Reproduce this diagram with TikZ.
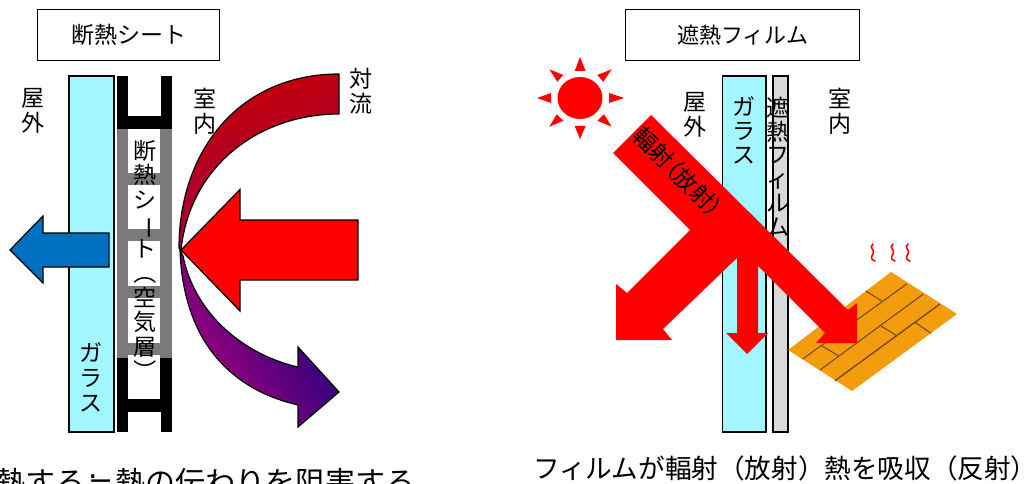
\documentclass[tikz,border=0pt]{standalone}
\usepackage{fontspec}
\setmainfont{Noto Sans CJK JP}
\newfontfamily\symfont{DejaVu Sans}
\newfontfamily\paltfont[RawFeature=+palt]{Noto Sans CJK JP}
\definecolor{glassc}{RGB}{161,246,255}
\definecolor{filmc}{RGB}{217,217,217}
\definecolor{bluec}{RGB}{0,112,192}
\definecolor{grayc}{RGB}{122,122,122}
\definecolor{floorc}{RGB}{243,156,14}
\definecolor{plankc}{RGB}{110,70,20}
\definecolor{arcdeep}{RGB}{150,0,75}
\definecolor{arctop}{RGB}{200,0,5}
\definecolor{lowa}{RGB}{170,0,125}
\definecolor{lowb}{RGB}{20,0,125}
\newcommand\vrot[1]{\smash{\rotatebox[origin=c]{-90}{#1}}}
\newcommand\vst[2]{\vbox{\baselineskip=#1pt\lineskiplimit=-100pt\lineskip=0pt\halign{\hfil##\hfil\cr#2\crcr}}}
\tikzset{
  panel/.style={draw=black,line width=1.4pt},
  titlebox/.style={draw=black,line width=1.4pt,minimum width=#1,minimum height=51pt,inner sep=0pt,font=\fontsize{23}{25}\selectfont},
  vlabel/.style={inner sep=0pt,font=\fontsize{23}{25}\selectfont},
  arrowred/.style={fill=red,draw=black,line width=1.2pt,line join=miter},
  plank/.style={draw=plankc,line width=1pt},
  wave/.style={draw=red,line width=1.6pt,line cap=round},
  ray/.style={fill=red,draw=none}
}
\begin{document}
\begin{tikzpicture}[x=1pt,y=-1pt]
\useasboundingbox (0,0) rectangle (1025,484);
% ---------- left: insulation sheet
\node[titlebox=182pt,anchor=north west] (t1) at (37,9) {断熱シート};
\draw[panel,fill=glassc] (69,76) rectangle (114,432);
\fill[black] (117,76) rectangle (172,432);
\fill[grayc] (117,129) rectangle (172,358);
\fill[white] (127.5,76) rectangle (161,116);
\fill[white] (127.5,129) rectangle (160,173);
\fill[white] (127.5,185) rectangle (160,229);
\fill[white] (127.5,241) rectangle (160,286);
\fill[white] (127.5,298) rectangle (160,343);
\fill[white] (127.5,355) rectangle (160,399);
\fill[white] (127.5,412) rectangle (161,432);
\node[vlabel,anchor=north] (sheet) at (145,140) {\vst{24.5}{断\cr 熱\cr シ\cr \vrot{ー}\cr ト\cr \vrot{（}\cr 空\cr 気\cr 層\cr \vrot{）}}};
\node[vlabel,anchor=north] (glass1) at (91,342) {\vst{25}{ガ\cr ラ\cr ス}};
\node[vlabel] (out1) at (33,111) {\vst{25}{屋\cr 外}};
\node[vlabel] (in1) at (205,111) {\vst{25}{室\cr 内}};
\node[vlabel] (conv) at (361,91) {\vst{25}{対\cr 流}};
% upper convection arc
\path[draw=black,line width=1.2pt,top color=arctop,bottom color=arcdeep,shading angle=20]
  (339,74) .. controls (240,74) and (179,150) .. (179,248)
  -- (181,250) .. controls (190,165) and (260,114) .. (339,114) -- cycle;
% lower convection arrow
\path[draw=black,line width=1.2pt,left color=lowa,right color=lowb,shading angle=120]
  (180,250) .. controls (183,335) and (225,388) .. (298,405)
  -- (298,427) -- (339,392) -- (298,347) -- (298,367)
  .. controls (245,355) and (195,315) .. (183,256) -- cycle;
% arrows
\draw[arrowred] (181,250) -- (240,189.5) -- (240,220) -- (358,220) -- (358,280) -- (240,280) -- (240,311) -- cycle;
\draw[fill=bluec,draw=black,line width=1.2pt] (10,250) -- (43,216) -- (43,233) -- (109,233) -- (109,267) -- (43,267) -- (43,283) -- cycle;
\node[inner sep=0pt,anchor=east,font=\fontsize{30}{32}\selectfont] (cap1) at (416,482) {熱する\makebox[1em]{\symfont ≒}熱の伝わりを阻害する};
% ---------- right: heat-shield film
\node[titlebox=234pt,anchor=north west,font=\fontsize{22}{25}\selectfont] (t2) at (625,9) {遮熱フィルム};
\fill[ray] (580,98) ellipse (22.5 and 21);
\fill[ray] (580,57) -- (574.7,71) -- (585.7,71) -- cycle;
\fill[ray] (580,139) -- (574.7,126) -- (585.7,126) -- cycle;
\fill[ray] (537,98) -- (551,93) -- (551,103) -- cycle;
\fill[ray] (624,98) -- (609,93) -- (609,103) -- cycle;
\fill[ray] (611.7,69.3) -- (597.3,75) -- (603.3,81.7) -- cycle;
\fill[ray] (549.3,69.3) -- (563.3,75) -- (557.3,81.7) -- cycle;
\fill[ray] (611.7,126.7) -- (597.3,120.7) -- (604,114.3) -- cycle;
\fill[ray] (549.3,126.7) -- (563.3,120.7) -- (556.7,114.3) -- cycle;
\draw[panel,fill=glassc] (722.5,76) rectangle (766,432);
\draw[panel,fill=filmc] (773,76) rectangle (788,432);
\node[vlabel,anchor=north] (glass2) at (744,96) {\vst{24}{ガ\cr ラ\cr ス}};
\node[vlabel,anchor=north] (film) at (777.5,97) {\vst{23.7}{遮\cr 熱\cr フ\cr ィ\cr ル\cr ム}};
\node[vlabel] (out2) at (695,115) {\vst{25}{屋\cr 外}};
\node[vlabel] (in2) at (840,111) {\vst{25}{室\cr 内}};
% floor
\fill[floorc] (891,272) -- (957,314) -- (852,391) -- (788,350) -- cycle;
\draw[plank] (802.7,359) -- (906.7,284);
\draw[plank] (820,370) -- (923.3,294);
\draw[plank,line width=1.3pt] (835,380.7) -- (940,304);
\draw[plank] (865.7,291) -- (881.7,301);
\draw[plank] (821.7,345.7) -- (838.3,355.7);
\draw[plank] (881,326) -- (896.7,335.7);
\draw[plank] (915,322.3) -- (931,333.3);
\draw[wave] (873,244) .. controls (868,248) and (876,250) .. (873,254) .. controls (870,258) and (872,260) .. (875,261);
\draw[wave] (893,244) .. controls (888,248) and (896,250) .. (893,254) .. controls (890,258) and (892,260) .. (895,261);
\draw[wave] (908,244) .. controls (903,248) and (911,250) .. (908,254) .. controls (905,258) and (907,260) .. (910,261);
% beam
\fill[red] (651,115) -- (848,310) -- (857,303) -- (857,343) -- (816,343) -- (825,333) -- (758,266)
  -- (758,333) -- (768,333) -- (747,354) -- (726,333) -- (737,333) -- (737,258)
  -- (663,329) -- (672,340) -- (616,340) -- (616,284) -- (627,293) -- (690,230) -- (613,153) -- cycle;
\node[inner sep=0pt,rotate=-45,font=\fontsize{23}{25}\selectfont\paltfont] (beamlabel) at (678,172) {輻射（放射）};
\node[inner sep=0pt,anchor=west,font=\fontsize{26.6}{28}\selectfont] (cap2) at (533,468) {フィルムが輻射（放射）熱を吸収（反射）};
\end{tikzpicture}
\end{document}
